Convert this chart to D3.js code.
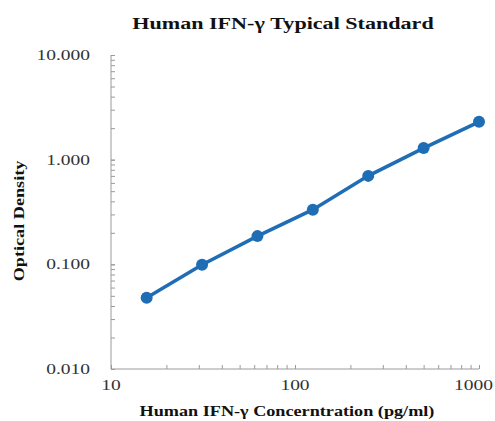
<!DOCTYPE html>
<html>
<head>
<meta charset="utf-8">
<script src="https://cdn.jsdelivr.net/npm/d3@7"></script>
<style>
  body { margin: 0; background: #fff; }
  svg { display: block; }
</style>
</head>
<body>
<div id="chart"></div>
<script>
// standard curve data
var concentrations = [15.625, 31.25, 62.5, 125, 250, 500, 1000];
var odValues = [0.048, 0.099, 0.186, 0.333, 0.70, 1.29, 2.30];
var xTickValues = [10, 100, 1000];
var yTickValues = [0.01, 0.1, 1, 10];
var yTickLabels = ["0.010", "0.100", "1.000", "10.000"];

var W = 495, H = 421;
var margin = { top: 55, right: 16, bottom: 52, left: 111 };
var serif = "Liberation Serif, Times New Roman, serif";
var stretch = 1.3; // text in the picture is wider than normal

var svg = d3.select("#chart")
  .append("svg")
  .attr("width", W)
  .attr("height", H);

var x = d3.scaleLog().domain([10, 1000]).range([margin.left, W - margin.right]);
var y = d3.scaleLog().domain([0.01, 10]).range([H - margin.bottom, margin.top]);

// minor ticks 1..9 for every decade
var xMinor = [], yMinor = [];
[10, 100].forEach(function(d) { for (var k = 1; k <= 10; k++) xMinor.push(d * k); });
[0.01, 0.1, 1].forEach(function(d) { for (var k = 1; k <= 10; k++) yMinor.push(d * k); });

var axisColor = "#9a9a9a";

// x axis (ticks pointing inward)
var gx = svg.append("g")
  .attr("transform", "translate(0," + (H - margin.bottom) + ")")
  .call(d3.axisBottom(x).tickValues(xMinor).tickSize(-4).tickFormat(""));
gx.select(".domain").attr("stroke", axisColor).attr("d", "M" + margin.left + ",0H" + (W - margin.right));
gx.selectAll(".tick line").attr("stroke", axisColor);

// y axis (ticks pointing inward)
var gy = svg.append("g")
  .attr("transform", "translate(" + margin.left + ",0)")
  .call(d3.axisLeft(y).tickValues(yMinor).tickSize(-4).tickFormat(""));
gy.select(".domain").attr("stroke", axisColor).attr("d", "M0," + margin.top + "V" + (H - margin.bottom));
gy.selectAll(".tick line").attr("stroke", axisColor);

// tick labels (kept inside the picture at the right edge)
svg.selectAll(".xlab")
  .data(xTickValues)
  .enter()
  .append("text")
  .attr("text-anchor", "middle")
  .attr("font-family", serif)
  .attr("font-size", 15)
  .attr("fill", "#333")
  .text(function(d) { return d; })
  .attr("transform", function(d) {
    var half = this.getComputedTextLength() * stretch / 2;
    var cx = Math.min(x(d), W - 2 - half);
    return "translate(" + cx + "," + (H - margin.bottom + 21) + ") scale(" + stretch + ",1)";
  });

svg.selectAll(".ylab")
  .data(yTickValues)
  .enter()
  .append("text")
  .attr("transform", function(d) { return "translate(90," + (y(d) + 5) + ") scale(" + stretch + ",1)"; })
  .attr("text-anchor", "end")
  .attr("font-family", serif)
  .attr("font-size", 15)
  .attr("fill", "#333")
  .text(function(d, i) { return yTickLabels[i]; });

// curve
var pts = concentrations.map(function(c, i) { return { c: c, od: odValues[i] }; });
var blue = "#1f6db5";

svg.append("path")
  .datum(pts)
  .attr("fill", "none")
  .attr("stroke", blue)
  .attr("stroke-width", 3.5)
  .attr("d", d3.line().x(function(d) { return x(d.c); }).y(function(d) { return y(d.od); }));

svg.selectAll(".pt")
  .data(pts)
  .enter()
  .append("circle")
  .attr("cx", function(d) { return x(d.c); })
  .attr("cy", function(d) { return y(d.od); })
  .attr("r", 6)
  .attr("fill", blue);

// titles
svg.append("text")
  .attr("transform", "translate(283,29) scale(" + stretch + ",1)")
  .attr("text-anchor", "middle")
  .attr("font-family", serif)
  .attr("font-weight", "bold")
  .attr("font-size", 17)
  .attr("fill", "#111")
  .text("Human IFN-γ Typical Standard");

svg.append("text")
  .attr("transform", "translate(287,416) scale(" + stretch + ",1)")
  .attr("text-anchor", "middle")
  .attr("font-family", serif)
  .attr("font-weight", "bold")
  .attr("font-size", 14)
  .attr("fill", "#111")
  .text("Human IFN-γ Concerntration (pg/ml)");

svg.append("text")
  .attr("transform", "translate(24,221) rotate(-90) scale(" + stretch + ",1)")
  .attr("text-anchor", "middle")
  .attr("font-family", serif)
  .attr("font-weight", "bold")
  .attr("font-size", 14)
  .attr("fill", "#111")
  .text("Optical Density");
</script>
</body>
</html>
